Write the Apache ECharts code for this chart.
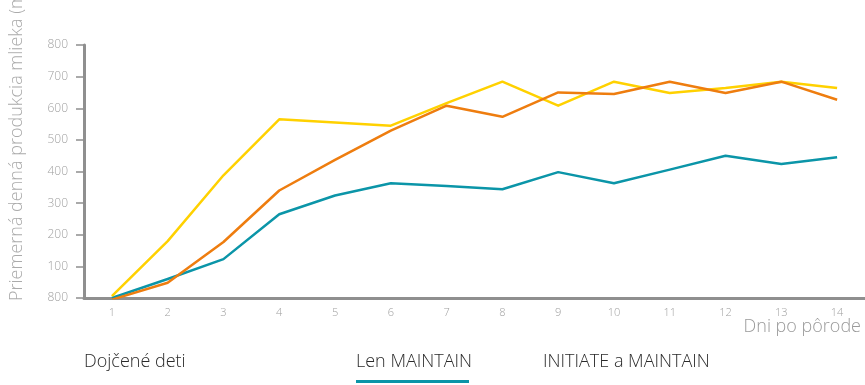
<!DOCTYPE html>
<html><head><meta charset="utf-8">
<script src="https://cdn.jsdelivr.net/npm/echarts@6/dist/echarts.min.js"></script>
<style>html,body{margin:0;padding:0;background:#fff}#c{width:865px;height:385px}</style>
</head><body><div id="c"></div>
<script>
const days = ['1','2','3','4','5','6','7','8','9','10','11','12','13','14'];
const yTickLabels = ['800','100','200','300','400','500','600','700','800'];
const dojceneDeti = [6, 180, 388, 565, 555, 545, 616, 684, 608, 684, 648, 664, 684, 664];
const lenMaintain = [0, 60, 123, 265, 324, 363, 354, 344, 398, 363, 406, 450, 424, 445];
const initiateMaintain = [-5, 48, 177, 340, 437, 529, 608, 573, 650, 645, 684, 648, 684, 627];
const seriesNames = ['Dojčené deti', 'Len MAINTAIN', 'INITIATE a MAINTAIN'];
const yAxisTitle = 'Priemerná denná produkcia mlieka (ml)';
const colors = ['#FFD100', '#0B95A8', '#EE7D0F'];
const values = [dojceneDeti, lenMaintain, initiateMaintain];

const chart = echarts.init(document.getElementById('c'), null, {renderer: 'canvas'});
const font = '"Open Sans", Lato, sans-serif';
chart.setOption({
  animation: false,
  textStyle: {fontFamily: font, fontWeight: 300},
  grid: {left: 84, right: -2, top: 45, bottom: 87, containLabel: false},
  xAxis: {
    type: 'category', data: days, boundaryGap: true,
    name: 'Dni po pôrode', nameLocation: 'end', nameGap: 0,
    nameTextStyle: {color: '#9a9a9a', fontSize: 18, fontWeight: 300, align: 'right', verticalAlign: 'top', padding: [20, 4, 0, 0]},
    axisLine: {lineStyle: {color: '#8f8f8f', width: 3}},
    axisTick: {lineStyle: {color: '#8f8f8f', width: 1.5}, length: 6},
    axisLabel: {color: '#a0a0a0', fontSize: 11, fontWeight: 300, margin: 9}
  },
  yAxis: {
    type: 'value', min: 0, max: 800, interval: 100,
    axisLine: {show: true, lineStyle: {color: '#8f8f8f', width: 3}},
    axisTick: {show: true, length: 8, lineStyle: {color: '#8f8f8f', width: 1.5}},
    splitLine: {show: false},
    axisLabel: {color: '#a0a0a0', fontSize: 12, fontWeight: 300, margin: 16,
      formatter: (v) => yTickLabels[Math.round(v / 100)]}
  },
  series: values.map((d, i) => ({
    name: seriesNames[i], type: 'line', data: d, showSymbol: false, symbol: 'none',
    smooth: false, clip: true,
    lineStyle: {color: colors[i], width: 2.5, join: 'round'},
    itemStyle: {color: colors[i]},
    z: [3, 2, 4][i]
  })),
  graphic: [
    {type: 'text', x: 8, y: 301, rotation: Math.PI / 2,
      style: {text: yAxisTitle, fill: '#ababab', font: '300 18px ' + font, textAlign: 'left', textVerticalAlign: 'top'}},
    {type: 'text', left: 84, top: 353, style: {text: seriesNames[0], fill: '#2a2a2a', font: '300 18px ' + font}},
    {type: 'text', left: 356, top: 353, style: {text: seriesNames[1], fill: '#2a2a2a', font: '300 18px ' + font}},
    {type: 'rect', left: 356, top: 380, shape: {width: 113, height: 3}, style: {fill: colors[1]}},
    {type: 'text', left: 543, top: 353, style: {text: seriesNames[2], fill: '#2a2a2a', font: '300 18px ' + font}}
  ]
});
</script></body></html>
